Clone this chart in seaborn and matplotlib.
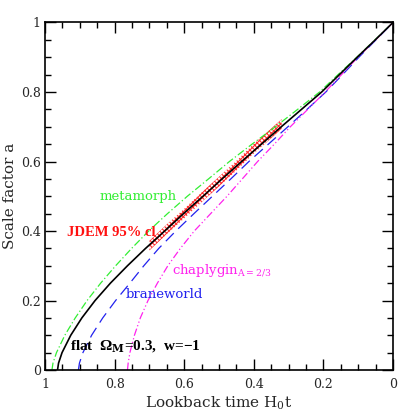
import numpy as np
import pandas as pd
import matplotlib
matplotlib.use("Agg")
import matplotlib.pyplot as plt
from matplotlib.ticker import MultipleLocator, FixedLocator, FixedFormatter
import seaborn as sns

# scale factor samples shared by all curves
a_vals = [0.0, 0.02, 0.05, 0.1, 0.15, 0.2, 0.25, 0.3, 0.35, 0.4, 0.45, 0.5,
          0.55, 0.6, 0.65, 0.7, 0.75, 0.8, 0.85, 0.9, 0.95, 1.0]

# lookback time H0 t, one list per model
t_lcdm = [0.964, 0.961, 0.951, 0.926, 0.894, 0.856, 0.812, 0.763, 0.711, 0.656, 0.602, 0.546,
          0.491, 0.435, 0.378, 0.321, 0.263, 0.205, 0.154, 0.103, 0.051, 0.0]
t_meta = [0.980, 0.977, 0.967, 0.943, 0.913, 0.879, 0.840, 0.797, 0.751, 0.702, 0.648, 0.591,
          0.530, 0.470, 0.405, 0.338, 0.274, 0.211, 0.158, 0.104, 0.052, 0.0]
t_brane = [0.904, 0.901, 0.891, 0.866, 0.834, 0.797, 0.756, 0.716, 0.673, 0.624, 0.572, 0.519,
           0.466, 0.414, 0.358, 0.302, 0.247, 0.193, 0.145, 0.098, 0.049, 0.0]
t_chap = [0.763, 0.761, 0.756, 0.743, 0.726, 0.704, 0.677, 0.647, 0.611, 0.571, 0.524, 0.477,
          0.433, 0.389, 0.341, 0.295, 0.245, 0.195, 0.148, 0.101, 0.050, 0.0]

# JDEM 95% band along the LCDM curve
jdem_t = [0.70, 0.65, 0.60, 0.55, 0.50, 0.45, 0.40, 0.35, 0.32]
jdem_a = [0.358, 0.405, 0.450, 0.497, 0.542, 0.588, 0.637, 0.681, 0.708]
jdem_err = 0.014

xticks = [1.0, 0.8, 0.6, 0.4, 0.2, 0.0]
xtick_labels = ["1", "0.8", "0.6", "0.4", "0.2", "0"]
yticks = [0.0, 0.2, 0.4, 0.6, 0.8, 1.0]
ytick_labels = ["0", "0.2", "0.4", "0.6", "0.8", "1"]

sns.set_style("ticks")
plt.rcParams['font.family'] = ['DejaVu Serif']
plt.rcParams['mathtext.fontset'] = 'dejavuserif'
plt.rcParams['hatch.linewidth'] = 0.8

fig = plt.figure(figsize=(4.15, 4.15), dpi=100)
ax = fig.add_axes([0.1084, 0.1084, 0.8386, 0.8374])

df = pd.DataFrame({"a": a_vals, "lcdm": t_lcdm, "meta": t_meta,
                   "brane": t_brane, "chap": t_chap})

# band first so the black line sits on top
lo = np.array(jdem_a) - jdem_err
hi = np.array(jdem_a) + jdem_err
ax.fill_between(jdem_t, lo, hi, facecolor="none", edgecolor="#ff3030",
                hatch="xxxxxxx", linewidth=0)

sns.lineplot(data=df, x="meta", y="a", sort=False, ax=ax, color="#33ee33",
             lw=0.9, linestyle=(0, (6, 2, 1, 2)))
sns.lineplot(data=df, x="brane", y="a", sort=False, ax=ax, color="#2222ee",
             lw=0.9, linestyle=(0, (9, 5)))
sns.lineplot(data=df, x="chap", y="a", sort=False, ax=ax, color="#ff22ee",
             lw=0.9, linestyle=(0, (6, 2, 1, 2, 1, 2)))
sns.lineplot(data=df, x="lcdm", y="a", sort=False, ax=ax, color="black", lw=1.2)

ax.set_xlim(1, 0)
ax.set_ylim(0, 1)

ax.xaxis.set_major_locator(FixedLocator(xticks))
ax.xaxis.set_major_formatter(FixedFormatter(xtick_labels))
ax.yaxis.set_major_locator(FixedLocator(yticks))
ax.yaxis.set_major_formatter(FixedFormatter(ytick_labels))
ax.xaxis.set_minor_locator(MultipleLocator(0.05))
ax.yaxis.set_minor_locator(MultipleLocator(0.05))
ax.tick_params(which="both", direction="in", top=True, right=True,
               color="black", width=1, labelsize=9)
ax.tick_params(which="major", length=8)
ax.tick_params(which="minor", length=4)
ax.tick_params(axis="x", which="major", pad=6)
ax.tick_params(axis="y", which="major", pad=3)
for s in ax.spines.values():
    s.set_linewidth(1.2)
    s.set_color("black")

ax.set_xlabel("Lookback time H$_0$t", fontsize=11, labelpad=2)
ax.set_ylabel("Scale factor a", fontsize=11, labelpad=3)

bold_font = ['Liberation Serif', 'DejaVu Serif']
ax.text(0.842, 0.50, "metamorph", color="#33ee33", fontsize=9.5, va="center")
ax.text(0.937, 0.397, "JDEM 95% cl", color="#ff1010", fontsize=10.5,
        fontweight="bold", va="center", family=bold_font)
ax.text(0.635, 0.285, "chaplygin$_{\\mathregular{A=2/3}}$", color="#ff22ee",
        fontsize=9.5, va="center")
ax.text(0.767, 0.216, "braneworld", color="#2222ee", fontsize=9.5, va="center")
ax.text(0.928, 0.069, "flat  \u03a9$_{\\mathbf{M}}$=0.3,  w=\u22121", color="black",
        fontsize=11, fontweight="bold", va="center", family=bold_font)

fig.savefig("out.png", dpi=100)
